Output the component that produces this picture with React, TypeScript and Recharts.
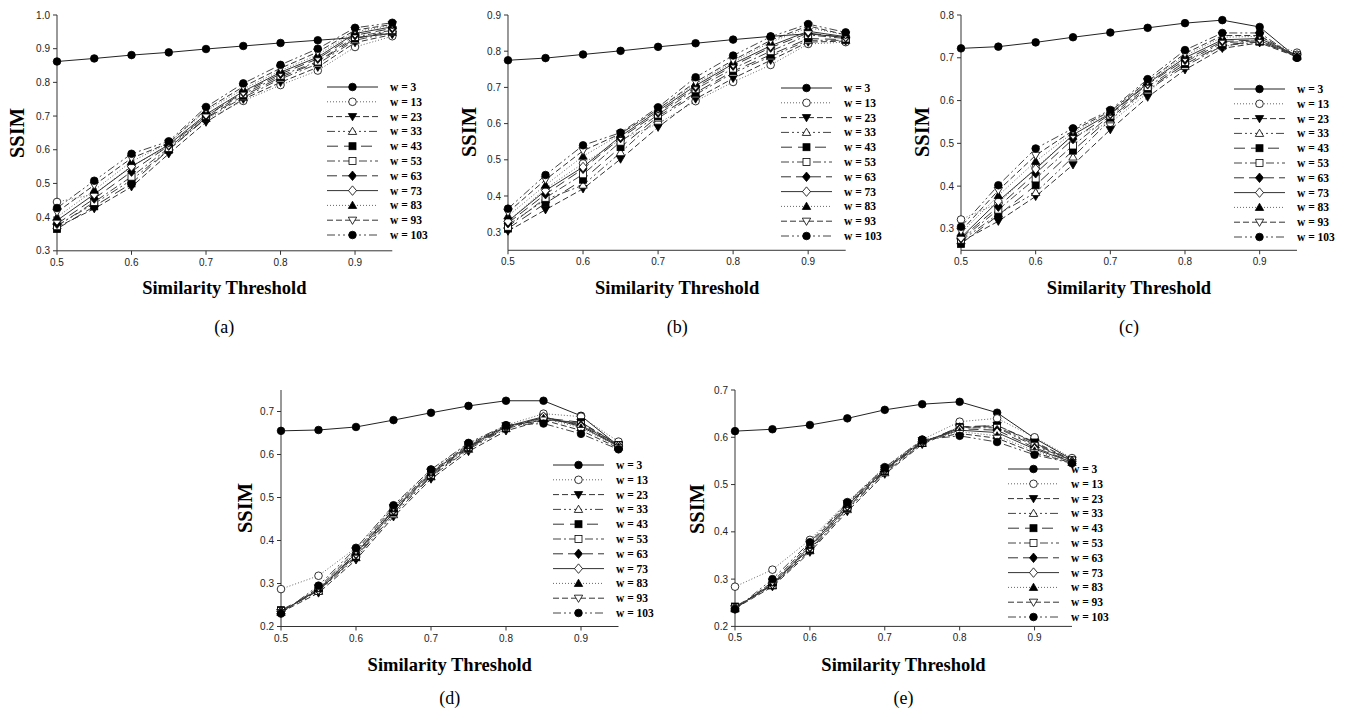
import React from 'react'
import { LineChart, Line, XAxis, YAxis, Legend } from 'recharts'

// similarity thresholds on the x axis
const thresholds = [0.5, 0.55, 0.6, 0.65, 0.7, 0.75, 0.8, 0.85, 0.9, 0.95]
const windowSizes = [3, 13, 23, 33, 43, 53, 63, 73, 83, 93, 103]
const xTicks = [0.5, 0.6, 0.7, 0.8, 0.9]

// one row per window size (w = 3 ... 103)
const ssimA = [
  [0.862, 0.871, 0.881, 0.889, 0.899, 0.908, 0.917, 0.925, 0.933, 0.945],
  [0.445, 0.468, 0.552, 0.61, 0.69, 0.745, 0.792, 0.835, 0.905, 0.937],
  [0.37, 0.425, 0.49, 0.588, 0.682, 0.75, 0.8, 0.845, 0.918, 0.942],
  [0.375, 0.44, 0.51, 0.6, 0.693, 0.755, 0.81, 0.855, 0.925, 0.948],
  [0.365, 0.432, 0.5, 0.6, 0.695, 0.76, 0.815, 0.86, 0.93, 0.952],
  [0.373, 0.445, 0.52, 0.605, 0.7, 0.765, 0.82, 0.862, 0.935, 0.955],
  [0.38, 0.455, 0.535, 0.612, 0.7, 0.77, 0.825, 0.87, 0.94, 0.96],
  [0.39, 0.468, 0.55, 0.615, 0.705, 0.773, 0.83, 0.875, 0.945, 0.965],
  [0.4, 0.48, 0.565, 0.62, 0.715, 0.78, 0.835, 0.882, 0.95, 0.97],
  [0.415, 0.495, 0.575, 0.62, 0.72, 0.787, 0.842, 0.89, 0.955, 0.972],
  [0.427, 0.508, 0.588, 0.625, 0.727, 0.797, 0.852, 0.9, 0.962, 0.977],
]

const ssimB = [
  [0.775, 0.781, 0.791, 0.801, 0.812, 0.822, 0.832, 0.841, 0.848, 0.838],
  [0.33, 0.42, 0.49, 0.555, 0.6, 0.662, 0.715, 0.762, 0.82, 0.825],
  [0.303, 0.362, 0.42, 0.502, 0.59, 0.668, 0.725, 0.775, 0.825, 0.828],
  [0.32, 0.39, 0.43, 0.52, 0.615, 0.68, 0.74, 0.785, 0.83, 0.83],
  [0.31, 0.38, 0.445, 0.535, 0.62, 0.685, 0.745, 0.79, 0.835, 0.832],
  [0.315, 0.395, 0.46, 0.55, 0.625, 0.695, 0.752, 0.8, 0.845, 0.835],
  [0.325, 0.405, 0.475, 0.56, 0.63, 0.7, 0.76, 0.81, 0.85, 0.838],
  [0.33, 0.415, 0.48, 0.565, 0.635, 0.705, 0.765, 0.815, 0.855, 0.84],
  [0.345, 0.43, 0.51, 0.57, 0.64, 0.71, 0.77, 0.825, 0.865, 0.845],
  [0.355, 0.445, 0.525, 0.572, 0.64, 0.715, 0.775, 0.83, 0.87, 0.845],
  [0.365, 0.458, 0.54, 0.575, 0.645, 0.728, 0.788, 0.84, 0.875, 0.852],
]

const ssimC = [
  [0.722, 0.726, 0.736, 0.748, 0.759, 0.77, 0.781, 0.788, 0.772, 0.7],
  [0.322, 0.36, 0.443, 0.518, 0.548, 0.618, 0.695, 0.725, 0.745, 0.712],
  [0.27, 0.318, 0.376, 0.45, 0.532, 0.608, 0.672, 0.722, 0.735, 0.702],
  [0.272, 0.335, 0.385, 0.468, 0.555, 0.625, 0.68, 0.728, 0.737, 0.705],
  [0.265, 0.332, 0.402, 0.483, 0.56, 0.628, 0.685, 0.73, 0.738, 0.703],
  [0.275, 0.345, 0.418, 0.495, 0.565, 0.632, 0.69, 0.735, 0.74, 0.706],
  [0.278, 0.352, 0.43, 0.51, 0.568, 0.638, 0.695, 0.738, 0.742, 0.704],
  [0.28, 0.365, 0.44, 0.52, 0.57, 0.64, 0.7, 0.742, 0.745, 0.706],
  [0.29, 0.378, 0.458, 0.525, 0.573, 0.643, 0.705, 0.748, 0.75, 0.703],
  [0.295, 0.39, 0.472, 0.53, 0.575, 0.645, 0.71, 0.752, 0.752, 0.702],
  [0.305, 0.402, 0.488, 0.535, 0.578, 0.65, 0.718, 0.758, 0.758, 0.7],
]

const ssimD = [
  [0.655, 0.657, 0.664, 0.68, 0.697, 0.713, 0.725, 0.725, 0.69, 0.62],
  [0.287, 0.318, 0.383, 0.48, 0.565, 0.625, 0.668, 0.695, 0.688, 0.63],
  [0.233, 0.278, 0.355, 0.455, 0.543, 0.607, 0.655, 0.68, 0.675, 0.622],
  [0.236, 0.282, 0.36, 0.46, 0.548, 0.612, 0.66, 0.682, 0.672, 0.62],
  [0.238, 0.284, 0.362, 0.465, 0.55, 0.615, 0.662, 0.685, 0.675, 0.622],
  [0.236, 0.283, 0.365, 0.468, 0.553, 0.617, 0.663, 0.686, 0.67, 0.621],
  [0.235, 0.285, 0.368, 0.47, 0.555, 0.618, 0.664, 0.686, 0.668, 0.62],
  [0.234, 0.286, 0.37, 0.472, 0.557, 0.62, 0.665, 0.688, 0.665, 0.619],
  [0.233, 0.288, 0.373, 0.474, 0.558, 0.621, 0.666, 0.684, 0.662, 0.617],
  [0.232, 0.29, 0.376, 0.477, 0.56, 0.623, 0.667, 0.68, 0.656, 0.615],
  [0.23, 0.295, 0.382, 0.482, 0.565, 0.627, 0.668, 0.672, 0.648, 0.612],
]

const ssimE = [
  [0.613, 0.617, 0.626, 0.64, 0.658, 0.67, 0.675, 0.652, 0.598, 0.553],
  [0.284, 0.32, 0.383, 0.463, 0.537, 0.595, 0.633, 0.64, 0.6, 0.556],
  [0.238, 0.284, 0.357, 0.443, 0.522, 0.585, 0.62, 0.625, 0.59, 0.552],
  [0.24, 0.286, 0.36, 0.447, 0.525, 0.587, 0.622, 0.622, 0.585, 0.551],
  [0.242, 0.287, 0.362, 0.45, 0.528, 0.588, 0.622, 0.625, 0.588, 0.55],
  [0.24, 0.288, 0.365, 0.452, 0.53, 0.589, 0.62, 0.62, 0.582, 0.551],
  [0.239, 0.289, 0.367, 0.454, 0.531, 0.59, 0.618, 0.615, 0.578, 0.549],
  [0.238, 0.29, 0.369, 0.456, 0.532, 0.591, 0.615, 0.61, 0.575, 0.548],
  [0.237, 0.292, 0.371, 0.458, 0.533, 0.592, 0.612, 0.603, 0.571, 0.547],
  [0.237, 0.294, 0.374, 0.46, 0.534, 0.593, 0.608, 0.598, 0.567, 0.546],
  [0.236, 0.3, 0.378, 0.462, 0.536, 0.595, 0.603, 0.59, 0.563, 0.545],
]

type Kind = 'circle' | 'triangleDown' | 'triangleUp' | 'square' | 'diamond'

const seriesStyle: { kind: Kind; filled: boolean; dash?: string; color: string }[] = [
  { kind: 'circle', filled: true, color: '#222' },
  { kind: 'circle', filled: false, dash: '1 2', color: '#666' },
  { kind: 'triangleDown', filled: true, dash: '6 3', color: '#333' },
  { kind: 'triangleUp', filled: false, dash: '8 3 2 3 2 3', color: '#444' },
  { kind: 'square', filled: true, dash: '11 6', color: '#333' },
  { kind: 'square', filled: false, dash: '8 3 2 3', color: '#444' },
  { kind: 'diamond', filled: true, dash: '10 5', color: '#333' },
  { kind: 'diamond', filled: false, color: '#333' },
  { kind: 'triangleUp', filled: true, dash: '1 2', color: '#666' },
  { kind: 'triangleDown', filled: false, dash: '6 3', color: '#333' },
  { kind: 'circle', filled: true, dash: '8 3 2 3 2 3', color: '#444' },
]

const serif = '"Liberation Serif", "Times New Roman", serif'
const sans = '"Liberation Sans", Arial, sans-serif'

const Marker = ({ cx, cy, kind, filled }: { cx: number; cy: number; kind: Kind; filled: boolean }) => {
  const r = 3.8
  const fill = filled ? '#000' : '#fff'
  const common = { fill, stroke: '#000', strokeWidth: 0.8 }
  if (kind === 'circle') return <circle cx={cx} cy={cy} r={r} {...common} />
  if (kind === 'square') return <rect x={cx - r + 0.3} y={cy - r + 0.3} width={2 * r - 0.6} height={2 * r - 0.6} {...common} />
  if (kind === 'triangleUp')
    return <polygon points={`${cx},${cy - r * 1.1} ${cx + r * 1.1},${cy + r * 0.8} ${cx - r * 1.1},${cy + r * 0.8}`} {...common} />
  if (kind === 'triangleDown')
    return <polygon points={`${cx},${cy + r * 1.1} ${cx + r * 1.1},${cy - r * 0.8} ${cx - r * 1.1},${cy - r * 0.8}`} {...common} />
  return <polygon points={`${cx},${cy - r * 1.25} ${cx + r * 1.05},${cy} ${cx},${cy + r * 1.25} ${cx - r * 1.05},${cy}`} {...common} />
}

const LegendBox = () => (
  <svg width={105} height={165} style={{ display: 'block', overflow: 'visible' }}>
    {windowSizes.map((w, i) => {
      const y = 7 + i * 14.8
      const s = seriesStyle[i]
      return (
        <g key={w}>
          <line x1={0} x2={51} y1={y} y2={y} stroke={s.color} strokeWidth={1} strokeDasharray={s.dash} />
          <Marker cx={25.5} cy={y} kind={s.kind} filled={s.filled} />
          <text x={63} y={y} dominantBaseline="central" fontFamily={serif} fontWeight="bold" fontSize={11.5} fill="#000">
            {`w = ${w}`}
          </text>
        </g>
      )
    })}
  </svg>
)

const Centered = ({ x, y, size, bold, rotate, children }: any) => (
  <div
    style={{
      position: 'absolute',
      left: x,
      top: y,
      transform: `translate(-50%, -50%)${rotate ? ' rotate(-90deg)' : ''}`,
      fontFamily: serif,
      fontSize: size,
      fontWeight: bold ? 'bold' : 'normal',
      whiteSpace: 'nowrap',
      lineHeight: 1,
      color: '#000',
    }}
  >
    {children}
  </div>
)

type PanelProps = {
  rows: number[][]
  left: number
  right: number
  top: number
  bottom: number
  yDomain: [number, number]
  yTicks: number[]
  ssimX: number
  legendX: number
  legendY: number
  titleY: number
  captionY: number
  caption: string
}

const Panel = ({ rows, left, right, top, bottom, yDomain, yTicks, ssimX, legendX, legendY, titleY, captionY, caption }: PanelProps) => {
  const YW = 60
  const XH = 40
  const MT = 10
  const MR = 12
  const chartLeft = left - YW
  const chartTop = top - MT
  const width = right - left + YW + MR
  const height = bottom - top + MT + XH
  const data = thresholds.map((t, i) => {
    const row: Record<string, number> = { x: t }
    windowSizes.forEach((w, j) => {
      row['w' + w] = rows[j][i]
    })
    return row
  })
  const cx = (left + right) / 2
  return (
    <>
      <div style={{ position: 'absolute', left: chartLeft, top: chartTop }}>
        <LineChart width={width} height={height} data={data} margin={{ top: MT, right: MR, left: 0, bottom: 0 }}>
          <XAxis
            type="number"
            dataKey="x"
            domain={[0.5, 0.95]}
            ticks={xTicks}
            interval={0}
            height={XH}
            tickSize={4}
            tickMargin={4}
            tickFormatter={(v: number) => v.toFixed(1)}
            stroke="#333"
            tick={{ fontSize: 10, fill: '#222', fontFamily: sans }}
          />
          <YAxis
            type="number"
            domain={yDomain}
            ticks={yTicks}
            interval={0}
            width={YW}
            tickSize={4}
            tickMargin={3}
            tickFormatter={(v: number) => v.toFixed(1)}
            stroke="#333"
            tick={{ fontSize: 10, fill: '#222', fontFamily: sans }}
          />
          <Legend
            layout="vertical"
            align="center"
            verticalAlign="middle"
            content={() => <LegendBox />}
            wrapperStyle={{ left: legendX - chartLeft, top: legendY - 7 - chartTop, width: 105, height: 165 }}
          />
          {windowSizes.map((w, i) => {
            const s = seriesStyle[i]
            return (
              <Line
                key={w}
                type="linear"
                dataKey={'w' + w}
                stroke={s.color}
                strokeWidth={1}
                strokeDasharray={s.dash}
                isAnimationActive={false}
                activeDot={false}
                dot={(p: any) => <Marker key={`${w}-${p.index}`} cx={p.cx} cy={p.cy} kind={s.kind} filled={s.filled} />}
              />
            )
          })}
        </LineChart>
      </div>
      <Centered x={ssimX} y={(top + bottom) / 2} size={20.5} bold rotate>
        SSIM
      </Centered>
      <Centered x={cx} y={titleY} size={18.5} bold>
        Similarity Threshold
      </Centered>
      <Centered x={cx} y={captionY} size={18}>
        {caption}
      </Centered>
    </>
  )
}

export default function App() {
  return (
    <div style={{ position: 'absolute', left: 0, top: 0, width: 1348, height: 715, background: '#fff', overflow: 'hidden' }}>
      <Panel
        rows={ssimA}
        left={56.7}
        right={392}
        top={14.7}
        bottom={250.5}
        yDomain={[0.3, 1.0]}
        yTicks={[0.3, 0.4, 0.5, 0.6, 0.7, 0.8, 0.9, 1.0]}
        ssimX={17}
        legendX={327}
        legendY={87.5}
        titleY={288}
        captionY={327}
        caption="(a)"
      />
      <Panel
        rows={ssimB}
        left={508.3}
        right={846}
        top={14.7}
        bottom={250}
        yDomain={[0.25, 0.9]}
        yTicks={[0.3, 0.4, 0.5, 0.6, 0.7, 0.8, 0.9]}
        ssimX={469}
        legendX={781}
        legendY={88}
        titleY={288}
        captionY={327}
        caption="(b)"
      />
      <Panel
        rows={ssimC}
        left={961}
        right={1297}
        top={14.7}
        bottom={250}
        yDomain={[0.25, 0.8]}
        yTicks={[0.3, 0.4, 0.5, 0.6, 0.7, 0.8]}
        ssimX={922}
        legendX={1234}
        legendY={89}
        titleY={288}
        captionY={327}
        caption="(c)"
      />
      <Panel
        rows={ssimD}
        left={281}
        right={618.5}
        top={390}
        bottom={626.5}
        yDomain={[0.2, 0.75]}
        yTicks={[0.2, 0.3, 0.4, 0.5, 0.6, 0.7]}
        ssimX={245}
        legendX={553}
        legendY={465}
        titleY={665}
        captionY={698}
        caption="(d)"
      />
      <Panel
        rows={ssimE}
        left={735}
        right={1072}
        top={390.3}
        bottom={626.7}
        yDomain={[0.2, 0.7]}
        yTicks={[0.2, 0.3, 0.4, 0.5, 0.6, 0.7]}
        ssimX={697}
        legendX={1008}
        legendY={469.3}
        titleY={665}
        captionY={698}
        caption="(e)"
      />
    </div>
  )
}
